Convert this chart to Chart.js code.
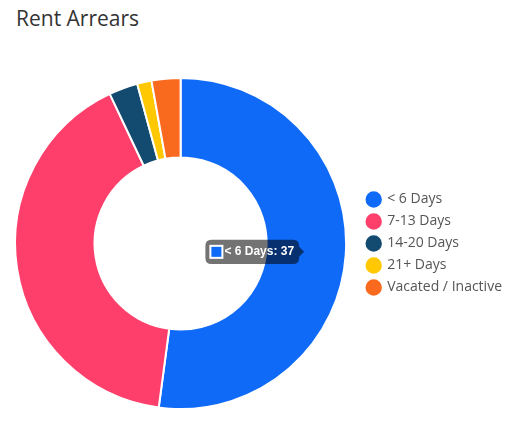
<!DOCTYPE html>
<html>
<head>
<meta charset="utf-8">
<script src="https://cdn.jsdelivr.net/npm/chart.js@4"></script>
<style>
  body { margin: 0; background: #fff; font-family: 'Open Sans', sans-serif; }
  h1 { position: absolute; left: 16px; top: 4px; margin: 0; font-weight: 400; font-size: 21px; color: #333; }
  #wrap { position: absolute; left: 2px; top: 77px; width: 510px; height: 333px; }
</style>
</head>
<body>
<h1>Rent Arrears</h1>
<div id="wrap"><canvas id="c"></canvas></div>
<script>
// ข้อมูล
const labels = ['< 6 Days', '7-13 Days', '14-20 Days', '21+ Days', 'Vacated / Inactive'];
const counts = [37, 29, 2, 1, 2];
const colors = ['#0f6af7', '#ff3f6b', '#134a6f', '#ffc800', '#fa6a1e'];

const chart = new Chart(document.getElementById('c'), {
  type: 'doughnut',
  data: {
    labels: labels,
    datasets: [{
      data: counts,
      backgroundColor: colors,
      borderColor: '#fff',
      borderWidth: 2
    }]
  },
  options: {
    responsive: true,
    maintainAspectRatio: false,
    animation: false,
    cutout: '52%',
    plugins: {
      legend: {
        position: 'right',
        labels: {
          usePointStyle: true,
          pointStyle: 'circle',
          boxWidth: 13,
          boxHeight: 13,
          padding: 8,
          color: '#555',
          font: { family: 'Open Sans', size: 14 }
        }
      },
      tooltip: {
        backgroundColor: 'rgba(0,0,0,0.55)',
        bodyFont: { family: 'Arial', size: 12, weight: 'bold' },
        padding: 5,
        caretSize: 5,
        callbacks: {
          title: () => '',
          label: ctx => `${ctx.label}: ${ctx.parsed}`
        }
      }
    }
  }
});
chart.tooltip.setActiveElements([{ datasetIndex: 0, index: 0 }], { x: 0, y: 0 });
chart.update();
</script>
</body>
</html>
